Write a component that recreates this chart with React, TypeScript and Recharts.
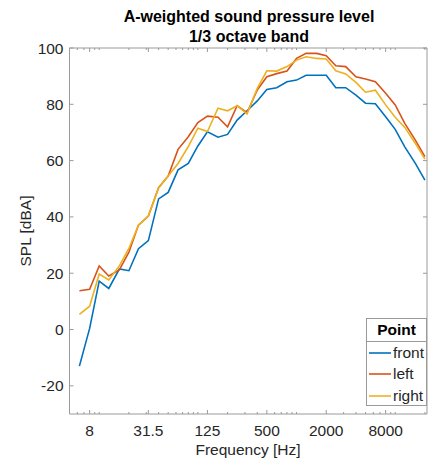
import React from 'react';
import { LineChart, Line, XAxis, YAxis } from 'recharts';

const freqs = [6.3, 8, 10, 12.5, 16, 20, 25, 31.5, 40, 50, 63, 80, 100, 125, 160, 200, 250, 315, 400, 500, 630, 800, 1000, 1250, 1600, 2000, 2500, 3150, 4000, 5000, 6300, 8000, 10000, 12500, 16000, 20000];
const front = [-13, 0.4, 17.2, 14.6, 21.5, 20.9, 28.7, 31.6, 46.4, 48.7, 56.7, 59, 65.2, 70.2, 68.3, 69.3, 74.4, 77.7, 81.2, 85.3, 85.9, 88, 88.6, 90.3, 90.3, 90.3, 85.9, 85.9, 83.3, 80.4, 80.2, 75.6, 71.1, 64.9, 59, 53.1];
const left = [13.8, 14.3, 22.6, 19, 21.2, 27.5, 37.1, 40.3, 50.4, 54.5, 64, 68.5, 73.5, 75.8, 75.4, 72, 79.5, 77, 85.1, 89.8, 90.9, 91.8, 96.3, 98.1, 98.1, 97.3, 93.7, 93.4, 89.8, 89, 88, 83.9, 79.8, 73.2, 67.3, 61.4];
const right = [5.4, 8.3, 19.7, 17.6, 22.6, 28.8, 37.1, 40.3, 50.4, 54.5, 59, 65, 71.5, 70.3, 78.6, 77.7, 79.5, 76.6, 85.7, 91.9, 91.8, 93.4, 95.7, 96.9, 96.3, 96.1, 91.9, 90.8, 87.8, 84.3, 85, 79.8, 75.4, 71.8, 66.1, 60.5];

const xMajorTicks = [8, 31.5, 125, 500, 2000, 8000];
const xMinorTicks = [6, 7, 9, 10, 20, 30, 40, 50, 60, 70, 80, 90, 100, 200, 300, 400, 600, 700, 800, 900, 1000, 3000, 4000, 5000, 6000, 7000, 9000, 10000, 20000];
const yTicks = [-20, 0, 20, 40, 60, 80, 100];
const seriesNames = ['front', 'left', 'right'];
const titleLines = ['A-weighted sound pressure level', '1/3 octave band'];

const COLORS = ['#0072BD', '#D95319', '#EDB120'];
const FONT = '"Liberation Sans", Arial, Helvetica, sans-serif';
const AXIS = '#9a9a9a';
const TEXT = '#262626';
const FS = 15.5;
const MAJ = 4;
const MIN = 2;

const data = freqs.map((f, i) => ({ f, front: front[i], left: left[i], right: right[i] }));
const xAllTicks = [...xMinorTicks, ...xMajorTicks].sort((a, b) => a - b);

const XDOM: [number, number] = [5, 21000];
const YDOM: [number, number] = [-30, 100];

const BottomTick = (props: any) => {
  const { x, y, payload } = props;
  const major = xMajorTicks.includes(payload.value);
  return (
    <g>
      <line x1={x} y1={y} x2={x} y2={y - (major ? MAJ : MIN)} stroke={AXIS} />
      {major && (
        <text x={x} y={y + 22} textAnchor="middle" fontSize={FS} fill={TEXT} fontFamily={FONT}>{String(payload.value)}</text>
      )}
    </g>
  );
};

const TopTick = (props: any) => {
  const { x, y, payload } = props;
  const major = xMajorTicks.includes(payload.value);
  return <line x1={x} y1={y} x2={x} y2={y + (major ? MAJ : MIN)} stroke={AXIS} />;
};

const LeftTick = (props: any) => {
  const { x, y, payload } = props;
  return (
    <g>
      <line x1={x} y1={y} x2={x + MAJ} y2={y} stroke={AXIS} />
      <text x={x - 6} y={y} textAnchor="end" dominantBaseline="central" fontSize={FS} fill={TEXT} fontFamily={FONT}>{String(payload.value)}</text>
    </g>
  );
};

const RightTick = (props: any) => {
  const { x, y } = props;
  return <line x1={x} y1={y} x2={x - MAJ} y2={y} stroke={AXIS} />;
};

export default function App() {
  const xCommon = { dataKey: 'f', type: 'number' as const, scale: 'log' as const, domain: XDOM, allowDataOverflow: true, interval: 0 as const, tickSize: 0, tickMargin: 0, tickLine: false };
  const yCommon = { type: 'number' as const, domain: YDOM, allowDataOverflow: true, interval: 0 as const, tickSize: 0, tickMargin: 0, tickLine: false, ticks: yTicks };
  return (
    <div style={{ position: 'absolute', left: 0, top: 0, width: 435, height: 465, background: '#fff' }}>
      <LineChart width={435} height={465} data={data} margin={{ top: 47, right: 7, bottom: 11, left: 9.5 }}>
        <XAxis {...xCommon} xAxisId="main" orientation="bottom" height={40} ticks={xAllTicks}
          axisLine={{ stroke: AXIS }}
          tick={<BottomTick />}
          label={() => (
            <text x={248} y={455} textAnchor="middle" fontSize={FS} fill={TEXT} fontFamily={FONT}>Frequency [Hz]</text>
          )}
        />
        <XAxis {...xCommon} xAxisId="top" orientation="top" height={1} ticks={xAllTicks}
          axisLine={{ stroke: AXIS }}
          tick={<TopTick />}
          label={() => (
            <text textAnchor="middle" fontSize={16} fontWeight="bold" fill="#000" fontFamily={FONT}>
              <tspan x={249} y={21.5}>{titleLines[0]}</tspan>
              <tspan x={249} y={41.5}>{titleLines[1]}</tspan>
            </text>
          )}
        />
        <YAxis {...yCommon} yAxisId="main" orientation="left" width={60}
          axisLine={{ stroke: AXIS }}
          tick={<LeftTick />}
          label={() => (
            <text x={25} y={231} transform="rotate(-90 25 231)" textAnchor="middle" dominantBaseline="central" fontSize={FS} fill={TEXT} fontFamily={FONT}>SPL [dBA]</text>
          )}
        />
        <YAxis {...yCommon} yAxisId="right" orientation="right" width={1}
          axisLine={{ stroke: AXIS }}
          tick={<RightTick />}
        />
        {seriesNames.map((s, i) => (
          <Line key={s} xAxisId="main" yAxisId="main" dataKey={s} name={s} type="linear" stroke={COLORS[i]} strokeWidth={1.6} dot={false} activeDot={false} isAnimationActive={false} />
        ))}
      </LineChart>
      <div style={{ position: 'absolute', left: 366, top: 318, width: 61, height: 88, border: `1px solid ${AXIS}`, background: '#fff', fontFamily: FONT, color: TEXT, boxSizing: 'border-box' }}>
        <div style={{ height: 22, lineHeight: '22px', textAlign: 'center', fontWeight: 'bold', fontSize: FS, color: '#000', borderBottom: `1px solid ${AXIS}` }}>Point</div>
        {seriesNames.map((s, i) => (
          <div key={s} style={{ display: 'flex', alignItems: 'center', height: 21.5, fontSize: FS }}>
            <svg width={26} height={10} style={{ flex: 'none' }}>
              <line x1={2} y1={5} x2={24} y2={5} stroke={COLORS[i]} strokeWidth={1.6} />
            </svg>
            <span>{s}</span>
          </div>
        ))}
      </div>
    </div>
  );
}
